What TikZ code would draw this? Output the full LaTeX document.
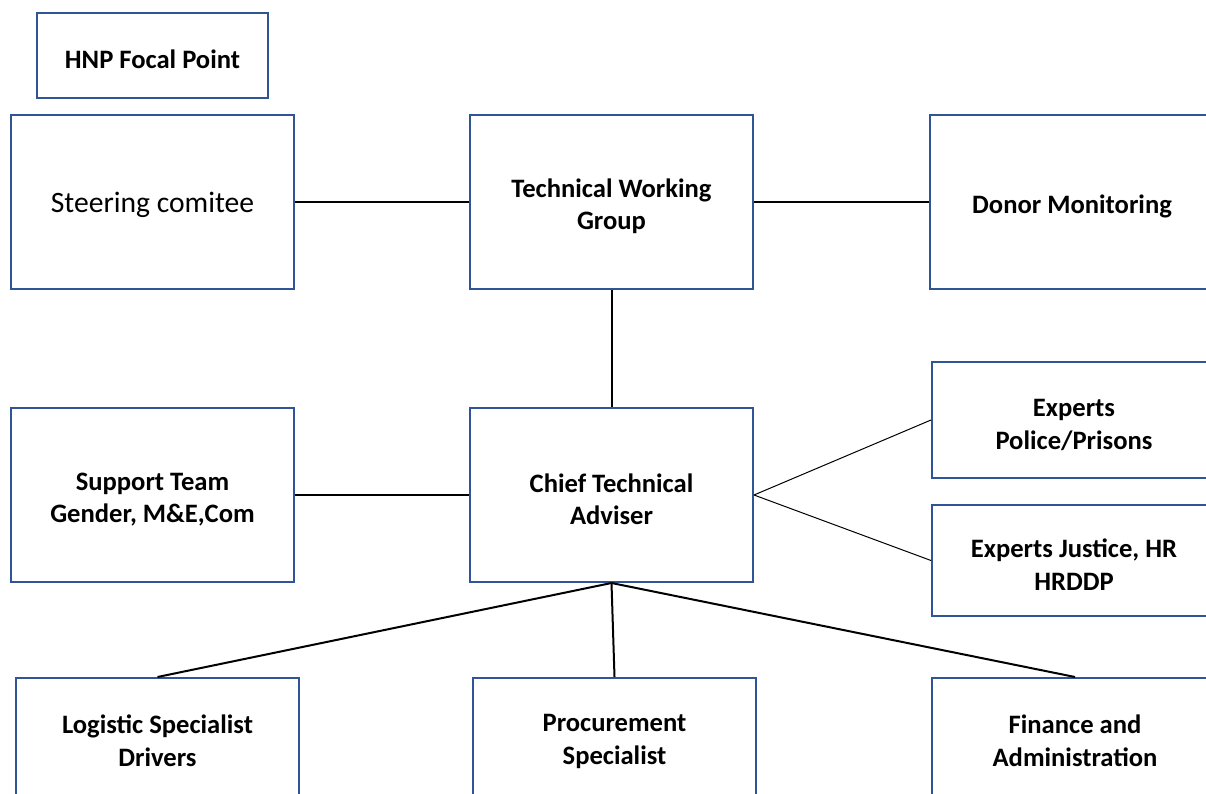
\documentclass[tikz,border=0pt]{standalone}
\usepackage{fontspec}
\setmainfont{Carlito}
\usepackage{tikz}
\usetikzlibrary{positioning}
\definecolor{boxblue}{RGB}{47,85,151}
\newcommand{\topgap}{\rule{0pt}{27pt}}

\begin{document}
\begin{tikzpicture}[x=1pt, y=-1pt,
    box/.style={draw=boxblue, line width=2pt, minimum width=283pt, minimum height=174pt, align=center, inner sep=0pt, font=\fontsize{26.6}{32.5}\selectfont\bfseries},
    link/.style={line width=2pt},
    thinlink/.style={line width=1pt}]

            \useasboundingbox (0,0) rectangle (1206,794);

            % Top row
            \node[box, minimum width=231pt, minimum height=85pt] (hnp) at (152.5,55.5) {\topgap HNP Focal Point};
            \node[box, font=\fontsize{29.6}{36}\selectfont] (steer) at (152.5,202) {\topgap Steering comitee};
            \node[box] (twg) at (611.5,202) {\topgap Technical Working\\Group};
            \node[box, minimum width=284pt] (donor) at (1072,202) {\topgap Donor Monitoring};

            % Middle row
            \node[box] (support) at (152.5,495) {\topgap Support Team\\Gender, M\&E,Com};
            \node[box] (cta) at (611.5,495) {\topgap Chief Technical\\Adviser};
            \node[box, minimum width=284pt, minimum height=116pt] (police) at (1074,420) {\topgap Experts\\Police/Prisons};
            \node[box, minimum width=284pt, minimum height=111pt] (justice) at (1074,560.5) {\topgap Experts Justice, HR\\HRDDP};

            % Bottom row
            \node[box, minimum height=117pt] (logistic) at (157.5,736.5) {\topgap Logistic Specialist\\Drivers};
            \node[box, minimum height=117pt] (procure) at (614.5,736.5) {\topgap Procurement\\Specialist};
            \node[box, minimum width=286pt, minimum height=117pt] (finance) at (1075,736.5) {\topgap Finance and\\Administration};


            % Connections: top row
            \draw[link] (steer) -- (twg);
            \draw[link] (twg) -- (donor);
            \draw[link] (twg.south) -- (cta.north);

            % Connections: middle row
            \draw[link] (support) -- (cta);
            \draw[thinlink] (cta.east) -- (police.west);
            \draw[thinlink] (cta.east) -- (justice.west);

            % Connections: adviser to bottom row
            \draw[link] (cta.south) -- (logistic.north);
            \draw[link] (cta.south) -- (procure.north);
            \draw[link] (cta.south) -- (finance.north);

        \end{tikzpicture}
\end{document}
